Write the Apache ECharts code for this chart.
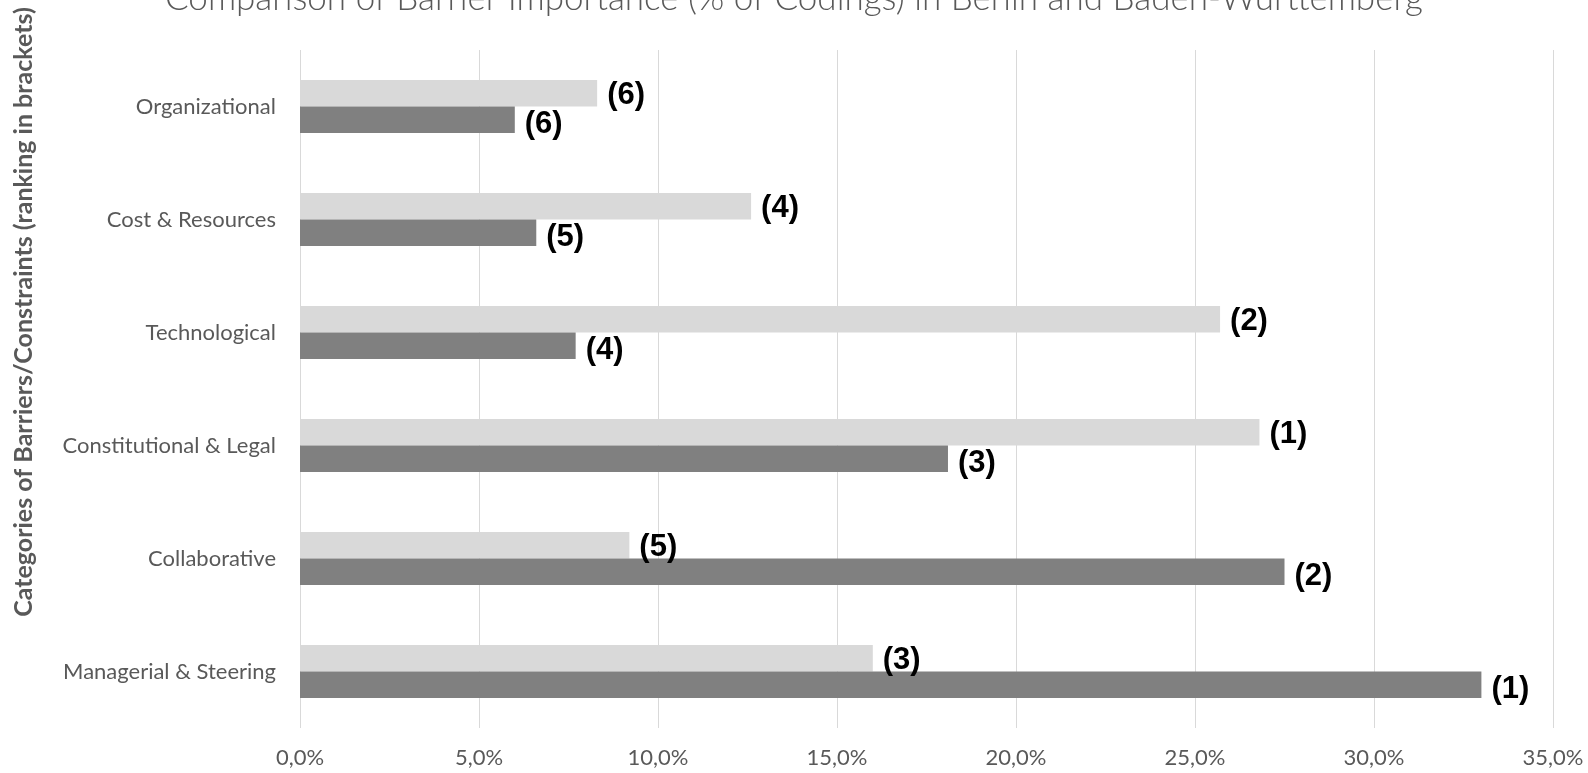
<!DOCTYPE html>
<html lang="en">
<head>
    <meta charset="utf-8">
    <title>Comparison of Barrier Importance</title>
    <style>
        html, body { margin: 0; padding: 0; background: #fff; }
        #main { width: 1588px; height: 773px; }
    </style>
</head>
<body>
<div id="main"></div>
<script src="https://cdn.jsdelivr.net/npm/echarts@6/dist/echarts.min.js"></script>
<script type="text/javascript">
    // categories, bottom to top (as on the chart)
    var categories = ['Managerial & Steering', 'Collaborative', 'Constitutional & Legal',
        'Technological', 'Cost & Resources', 'Organizational'];

    // light bars (upper bar of each pair), % of codings
    var lightValues = [16.0, 9.2, 26.8, 25.7, 12.6, 8.3];
    var lightRanks = ['(3)', '(5)', '(1)', '(2)', '(4)', '(6)'];

    // dark bars (lower bar of each pair)
    var darkValues = [33.0, 27.5, 18.1, 7.7, 6.6, 6.0];
    var darkRanks = ['(1)', '(2)', '(3)', '(4)', '(5)', '(6)'];

    var xTicks = [0, 5, 10, 15, 20, 25, 30, 35];

    var titleText = 'Comparison of Barrier Importance (% of Codings) in Berlin and Baden-Württemberg';
    var yAxisTitle = 'Categories of Barriers/Constraints (ranking in brackets)';

    var myChart = echarts.init(document.getElementById('main'));

    var labelStyle = {
        show: true,
        position: 'right',
        distance: 10,
        fontFamily: 'Liberation Sans',
        fontWeight: 'bold',
        fontSize: 31,
        color: '#000'
    };

    var option = {
        animation: false,
        title: {
            text: titleText,
            left: 'center',
            top: -24,
            textStyle: {
                fontFamily: 'Lato',
                fontWeight: 300,
                fontSize: 35,
                color: '#595959'
            }
        },
        grid: {
            left: 300,
            right: 35,
            top: 50,
            bottom: 45,
            containLabel: false
        },
        xAxis: {
            type: 'value',
            min: xTicks[0],
            max: xTicks[xTicks.length - 1],
            interval: 5,
            axisLine: { show: false },
            axisTick: { show: false },
            splitLine: { show: true, lineStyle: { color: '#d9d9d9', width: 1 } },
            axisLabel: {
                margin: 19,
                fontFamily: 'Lato',
                fontSize: 22,
                color: '#595959',
                formatter: function (v) {
                    return v.toFixed(1).replace('.', ',') + '%';
                }
            }
        },
        yAxis: {
            type: 'category',
            data: categories,
            axisLine: { show: false },
            axisTick: { show: false },
            axisLabel: {
                margin: 24,
                fontFamily: 'Lato',
                fontSize: 22,
                color: '#595959'
            }
        },
        graphic: [{
            type: 'text',
            x: 24,
            y: 312,
            rotation: Math.PI / 2,
            style: {
                text: yAxisTitle,
                textAlign: 'center',
                textVerticalAlign: 'middle',
                fontFamily: 'Lato',
                fontWeight: 'bold',
                fontSize: 25,
                fill: '#595959'
            }
        }],
        series: [{
            name: 'light',
            type: 'bar',
            data: lightValues,
            barGap: '0%',
            barCategoryGap: '53%',
            itemStyle: { color: '#d9d9d9' },
            label: Object.assign({}, labelStyle, {
                offset: [0, 2],
                formatter: function (p) { return lightRanks[p.dataIndex]; }
            })
        }, {
            name: 'dark',
            type: 'bar',
            data: darkValues,
            barGap: '0%',
            barCategoryGap: '53%',
            itemStyle: { color: '#808080' },
            label: Object.assign({}, labelStyle, {
                offset: [0, 5],
                formatter: function (p) { return darkRanks[p.dataIndex]; }
            })
        }]
    };

    myChart.setOption(option);
</script>
</body>
</html>
